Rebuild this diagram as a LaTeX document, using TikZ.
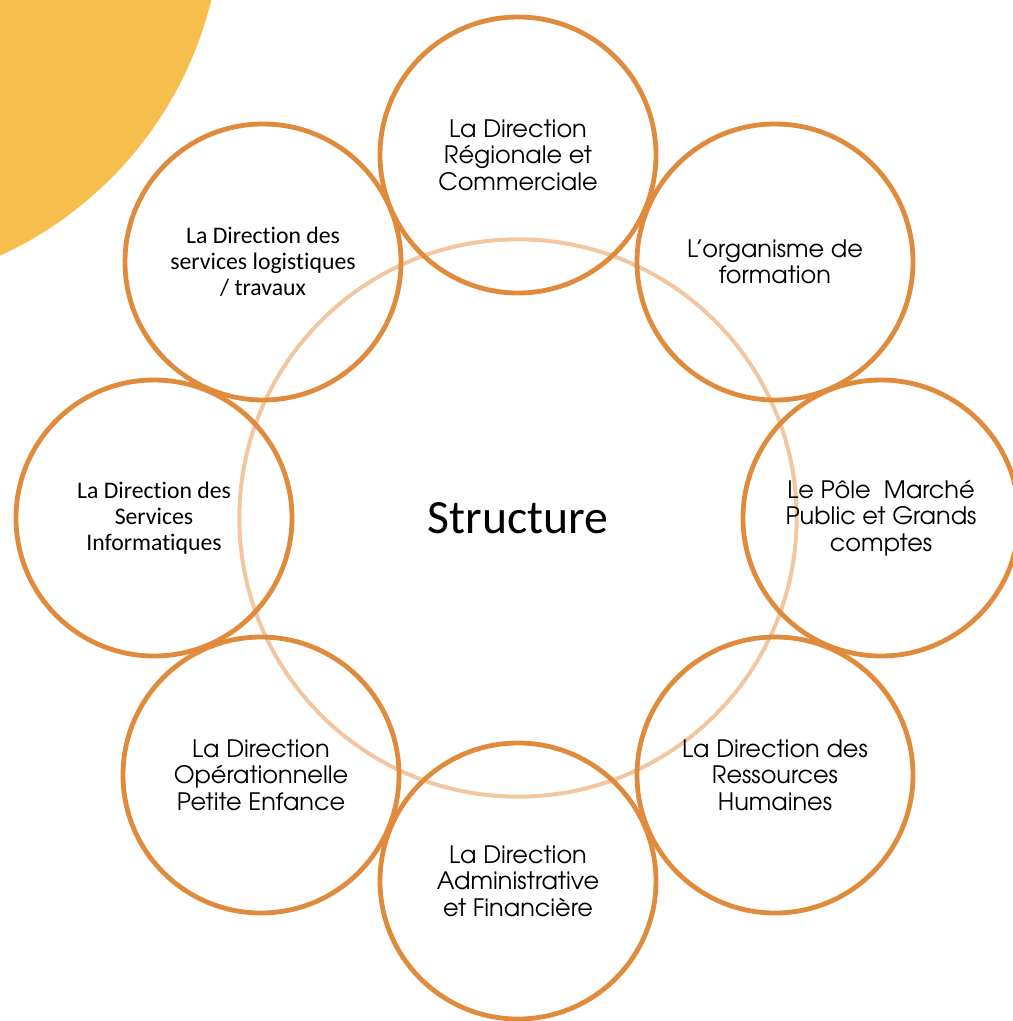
\documentclass[tikz,border=0pt]{standalone}
\usepackage{fontspec}
\setmainfont{Carlito}[Ligatures=NoCommon]
\newfontfamily\gothic{TeX Gyre Adventor}
\definecolor{ringorange}{HTML}{E08A3C}
\definecolor{ringlight}{HTML}{F2C6A0}
\definecolor{sunyellow}{HTML}{F6BE4C}
\tikzset{
  px/.style={x=0.75pt,y=-0.75pt},
  ring/.style={circle,draw=ringorange,line width=3.6pt,minimum size=207pt,inner sep=0pt,align=center},
  gothictext/.style={font=\gothic\fontsize{18pt}{19.9pt}\selectfont},
  calibritext/.style={font=\fontsize{17.8pt}{19.6pt}\selectfont},
  hub/.style={circle,draw=ringlight,line width=3pt,minimum size=418pt,inner sep=0pt,font=\fontsize{35.8pt}{40pt}\selectfont}
}
\begin{document}
\begin{tikzpicture}[px]
\useasboundingbox (0,0) rectangle (1013,1021);
\begin{scope}
\clip (0,0) rectangle (1013,1021);
\fill[sunyellow] (-158,-90) circle[radius=380];
\end{scope}
\node[hub] (hub) at (518,518) {Structure};
\begin{scope}
\clip (0,0) rectangle (1013,1021);
\node[ring,gothictext] (top) at (518,155) {La Direction\\Régionale et\\Commerciale};
\node[ring,gothictext] (topright) at (775,262) {L’organisme de\\formation};
\node[ring,gothictext] (right) at (881,518) {Le Pôle~~Marché\\Public et Grands\\comptes};
\node[ring,gothictext] (botright) at (775,775) {La Direction des\\Ressources\\Humaines};
\node[ring,gothictext] (bottom) at (518,881) {La Direction\\Administrative\\et Financière};
\node[ring,gothictext] (botleft) at (261,775) {La Direction\\Opérationnelle\\Petite Enfance};
\node[ring,calibritext] (left) at (154,518) {La Direction des\\Services\\Informatiques};
\node[ring,calibritext] (topleft) at (263,262) {La Direction des\\services logistiques\\/ travaux};
\end{scope}
\end{tikzpicture}
\end{document}
